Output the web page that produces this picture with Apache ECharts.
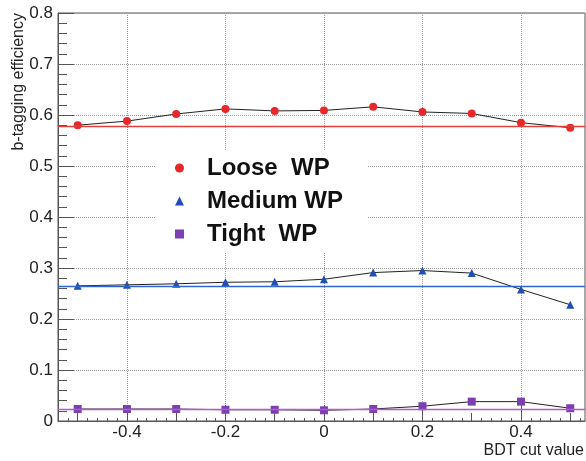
<!DOCTYPE html>
<html>
<head>
<meta charset="utf-8">
<script src="https://cdn.jsdelivr.net/npm/echarts@6/dist/echarts.min.js"></script>
<style>html,body{margin:0;padding:0;background:#fff;}#c{width:586px;height:461px;}</style>
</head>
<body>
<div id="c"></div>
<script>
var bdtCuts = [-0.5, -0.4, -0.3, -0.2, -0.1, 0, 0.1, 0.2, 0.3, 0.4, 0.5];
var looseEff = [0.580, 0.588, 0.602, 0.612, 0.608, 0.609, 0.616, 0.606, 0.603, 0.585, 0.575];
var mediumEff = [0.265, 0.267, 0.269, 0.272, 0.273, 0.278, 0.291, 0.295, 0.290, 0.258, 0.228];
var tightEff = [0.0235, 0.0235, 0.0235, 0.022, 0.022, 0.021, 0.0235, 0.029, 0.038, 0.038, 0.025];
var refLevels = [0.578, 0.264, 0.023];
var refColors = ['#e0403a', '#2f66c8', '#b05ad0'];
var seriesNames = ['Loose  WP', 'Medium WP', 'Tight  WP'];
var xMajorTicks = [-0.4, -0.2, 0, 0.2, 0.4];
var xMidTicks = [-0.5, -0.3, -0.1, 0.1, 0.3, 0.5];
var xMinorTicks = [];
for (var k = -27; k <= 26; k++) { xMinorTicks.push(+(k * 0.02).toFixed(2)); }

function pairs(ys) { return bdtCuts.map(function (x, i) { return [x, ys[i]]; }); }

var frameColor = '#555';
var chart = echarts.init(document.getElementById('c'), null, { renderer: 'canvas' });

function xAxisBase(extra) {
  var a = {
    type: 'value', min: -0.54, max: 0.53, position: 'bottom',
    axisLine: { show: false, onZero: false },
    axisLabel: { show: false },
    axisTick: { show: false },
    splitLine: { show: false }
  };
  for (var key in extra) a[key] = extra[key];
  return a;
}

function makeSeries(idx, data, color, symbol, size) {
  return {
    name: seriesNames[idx], type: 'line', data: pairs(data),
    xAxisIndex: 0, yAxisIndex: 0,
    symbol: symbol, symbolSize: size,
    itemStyle: { color: color },
    lineStyle: { color: '#222', width: 1 },
    z: 3,
    markLine: {
      silent: true, symbol: 'none', label: { show: false },
      precision: 5,
      lineStyle: { color: refColors[idx], width: 1.3, type: 'solid', opacity: 1 },
      emphasis: { disabled: true },
      data: [{ yAxis: refLevels[idx], lineStyle: { color: refColors[idx] } }]
    }
  };
}

chart.setOption({
  backgroundColor: '#fff',
  animation: false,
  grid: { left: 58, top: 13, right: 1, bottom: 40, show: true, borderColor: frameColor, borderWidth: 1, backgroundColor: 'transparent' },
  xAxis: [
    xAxisBase({
      axisLine: { show: true, onZero: false, lineStyle: { color: frameColor } },
      axisTick: { show: true, inside: true, length: 16, customValues: xMajorTicks, lineStyle: { color: frameColor } },
      axisLabel: { show: true, customValues: xMajorTicks, fontSize: 17, color: '#222', margin: 3, fontFamily: 'Liberation Sans, Arial' },
      splitLine: { show: true, lineStyle: { color: '#999', type: 'dotted', width: 1 } }
    }),
    xAxisBase({
      axisTick: { show: true, inside: true, length: 8, customValues: xMidTicks, lineStyle: { color: frameColor } }
    }),
    xAxisBase({
      axisTick: { show: true, inside: true, length: 3, customValues: xMinorTicks, lineStyle: { color: frameColor } }
    })
  ],
  yAxis: {
    type: 'value', min: 0, max: 0.8, interval: 0.1, position: 'left',
    axisLine: { show: true, onZero: false, lineStyle: { color: frameColor } },
    axisTick: { show: true, inside: true, length: 16, lineStyle: { color: frameColor } },
    minorTick: { show: true, splitNumber: 5, length: 9, lineStyle: { color: frameColor } },
    axisLabel: { fontSize: 17, color: '#222', margin: 5, fontFamily: 'Liberation Sans, Arial' },
    splitLine: { show: true, lineStyle: { color: '#999', type: 'dotted', width: 1 } }
  },
  legend: {
    orient: 'vertical', left: 155, top: 150,
    padding: [6, 24, 6, 20],
    backgroundColor: '#fff',
    itemWidth: 9, itemHeight: 9, itemGap: 9,
    lineStyle: { width: 0 },
    textStyle: { fontSize: 24, fontWeight: 'bold', color: '#111', lineHeight: 24, fontFamily: 'Liberation Sans, Arial', padding: [0, 0, 0, 18] },
    data: [
      { name: seriesNames[0], icon: 'circle' },
      { name: seriesNames[1], icon: 'triangle' },
      { name: seriesNames[2], icon: 'rect' }
    ]
  },
  graphic: [
    { type: 'text', x: 19, y: 13, rotation: Math.PI / 2,
      style: { text: 'b-tagging efficiency', fontSize: 16, fill: '#222', align: 'right', verticalAlign: 'middle', fontFamily: 'Liberation Sans, Arial' } },
    { type: 'text', x: 584, y: 451,
      style: { text: 'BDT cut value', fontSize: 16, fill: '#222', align: 'right', verticalAlign: 'middle', fontFamily: 'Liberation Sans, Arial' } }
  ],
  series: [
    makeSeries(0, looseEff, '#e8272b', 'circle', 8),
    makeSeries(1, mediumEff, '#1f4eb4', 'triangle', 8),
    makeSeries(2, tightEff, '#7b3fb0', 'rect', 8)
  ]
});
</script>
</body>
</html>
